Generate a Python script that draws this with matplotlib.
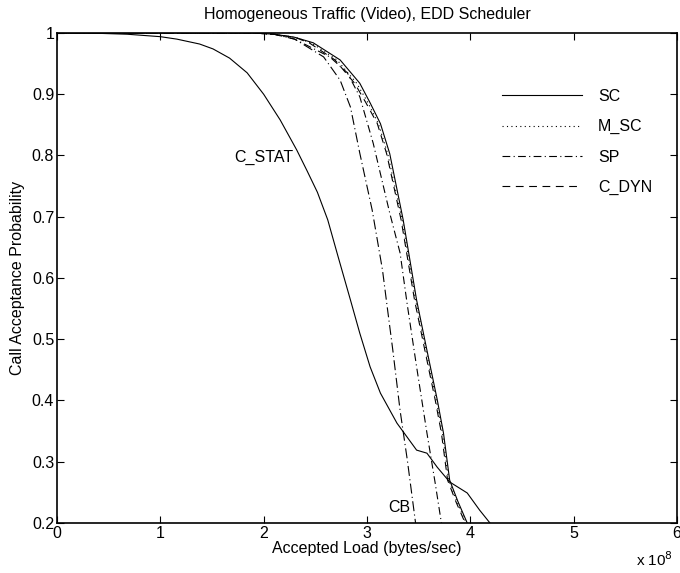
import matplotlib
matplotlib.use("Agg")
import matplotlib.pyplot as plt

plt.rcParams['font.family'] = ['Liberation Sans', 'DejaVu Sans']

# Data (x in units of 1e8 bytes/sec)
cstat_x = [0, 0.3, 0.68, 1.0, 1.16, 1.38, 1.51, 1.67, 1.84, 2.0, 2.16, 2.32, 2.42, 2.52, 2.62, 2.72,
           2.84, 2.93, 3.03, 3.13, 3.29, 3.48, 3.58, 3.68, 3.80, 3.97, 4.09, 4.19]
cstat_y = [1.0, 1.0, 0.998, 0.994, 0.99, 0.982, 0.974, 0.959, 0.935, 0.90, 0.858, 0.809, 0.775, 0.74,
           0.695, 0.635, 0.564, 0.51, 0.455, 0.412, 0.363, 0.319, 0.314, 0.291, 0.267, 0.249, 0.221, 0.2]

sc_x = [0, 1.9, 2.1, 2.3, 2.48, 2.74, 2.93, 3.03, 3.13, 3.22, 3.35, 3.48, 3.58, 3.68, 3.74, 3.80, 3.88, 3.97]
sc_y = [1.0, 1.0, 0.998, 0.993, 0.984, 0.956, 0.918, 0.886, 0.852, 0.803, 0.695, 0.564, 0.482, 0.401,
        0.347, 0.27, 0.235, 0.2]

msc_x = [0, 1.9, 2.1, 2.3, 2.46, 2.71, 2.90, 3.01, 3.11, 3.20, 3.34, 3.47, 3.57, 3.67, 3.73, 3.79, 3.87, 3.96]
msc_y = [1.0, 1.0, 0.998, 0.993, 0.984, 0.956, 0.918, 0.886, 0.852, 0.803, 0.695, 0.564, 0.482, 0.401,
         0.347, 0.27, 0.235, 0.2]

cdyn_x = [0, 1.9, 2.1, 2.3, 2.44, 2.69, 2.88, 2.99, 3.10, 3.19, 3.33, 3.46, 3.56, 3.66, 3.72, 3.78, 3.86, 3.95]
cdyn_y = [1.0, 1.0, 0.998, 0.993, 0.984, 0.956, 0.918, 0.886, 0.852, 0.803, 0.695, 0.564, 0.482, 0.401,
          0.347, 0.27, 0.235, 0.2]

sp_x = [0, 1.9, 2.1, 2.3, 2.64, 2.81, 2.93, 3.06, 3.22, 3.32, 3.39, 3.48, 3.58, 3.66, 3.72]
sp_y = [1.0, 1.0, 0.998, 0.99, 0.961, 0.935, 0.896, 0.82, 0.706, 0.641, 0.556, 0.455, 0.347, 0.265, 0.2]

cb_x = [0, 1.9, 2.1, 2.3, 2.58, 2.74, 2.84, 2.93, 3.05, 3.15, 3.20, 3.25, 3.32, 3.39, 3.47]
cb_y = [1.0, 1.0, 0.998, 0.99, 0.961, 0.923, 0.879, 0.804, 0.711, 0.613, 0.547, 0.482, 0.384, 0.303, 0.2]

x_ticks = [0, 1, 2, 3, 4, 5, 6]
y_ticks = [0.2, 0.3, 0.4, 0.5, 0.6, 0.7, 0.8, 0.9, 1]
y_ticklabels = ['0.2', '0.3', '0.4', '0.5', '0.6', '0.7', '0.8', '0.9', '1']

fs = 11.5

fig = plt.figure(figsize=(6.8, 5.73), dpi=100)
ax = fig.add_axes([57/680, 50/573, 620/680, 490/573])

lw = 0.8
ax.plot(sc_x, sc_y, color='black', lw=lw, linestyle='-', label='SC')
ax.plot(msc_x, msc_y, color='black', lw=lw, linestyle=(0, (1, 3)), label='M_SC')
ax.plot(sp_x, sp_y, color='black', lw=lw, linestyle=(0, (7, 3, 1, 3)), label='SP')
ax.plot(cdyn_x, cdyn_y, color='black', lw=lw, linestyle=(0, (7, 5)), label='C_DYN')
ax.plot(cstat_x, cstat_y, color='black', lw=lw, linestyle='-')
ax.plot(cb_x, cb_y, color='black', lw=lw, linestyle=(0, (9, 3, 1, 3)))

ax.text(2.29, 0.797, 'C_STAT', ha='right', va='center', fontsize=fs)
ax.text(3.31, 0.226, 'CB', ha='center', va='center', fontsize=fs)

ax.set_xlim(0, 6)
ax.set_ylim(0.2, 1)
ax.set_xticks(x_ticks)
ax.set_xticklabels([str(t) for t in x_ticks])
ax.set_yticks(y_ticks)
ax.set_yticklabels(y_ticklabels)
ax.tick_params(direction='in', top=True, right=True, length=5, width=0.8, labelsize=11.5, pad=2)
for s in ax.spines.values():
    s.set_linewidth(1.2)

ax.set_title('Homogeneous Traffic (Video), EDD Scheduler', fontsize=fs, pad=10)
ax.set_xlabel('Accepted Load (bytes/sec)', fontsize=fs, labelpad=0)
ax.set_ylabel('Call Acceptance Probability', fontsize=fs, labelpad=5)
ax.text(0.994, -0.056, r'x 10$^{8}$', transform=ax.transAxes, ha='right', va='top', fontsize=11)

leg = ax.legend(loc='upper left', bbox_to_anchor=(0.695, 0.915), frameon=False, fontsize=fs,
                handlelength=5.0, handletextpad=1.0, labelspacing=0.95)

fig.savefig('out.png', dpi=100)
